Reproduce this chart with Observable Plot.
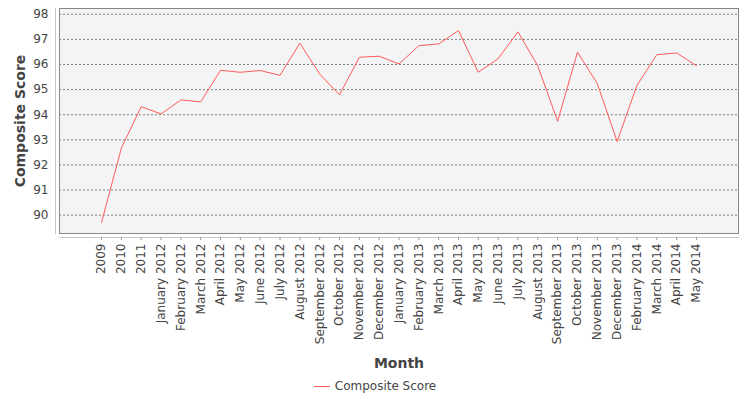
<!DOCTYPE html>
<html><head><meta charset="utf-8">
<script src="https://cdn.jsdelivr.net/npm/d3@7"></script>
<script src="https://cdn.jsdelivr.net/npm/@observablehq/plot@0.6"></script>
<style>
body{margin:0;background:#fff;font-family:"DejaVu Sans",sans-serif;}
#legend{height:28px;display:flex;align-items:center;justify-content:center;font-size:12px;color:#444;}
#legend .sw{display:inline-block;width:16px;height:0;border-top:1px solid #ff5a5a;margin-right:5px;}
</style></head>
<body><div id="chart"></div><div id="legend"><span class="sw"></span><span>Composite Score</span></div>
<script>
const months = ["2009","2010","2011","January 2012","February 2012","March 2012","April 2012","May 2012","June 2012","July 2012","August 2012","September 2012","October 2012","November 2012","December 2012","January 2013","February 2013","March 2013","April 2013","May 2013","June 2013","July 2013","August 2013","September 2013","October 2013","November 2013","December 2013","February 2014","March 2014","April 2014","May 2014"];
const scores = [89.71,92.67,94.32,94.03,94.59,94.51,95.77,95.69,95.76,95.57,96.85,95.62,94.79,96.29,96.33,96.02,96.75,96.82,97.35,95.69,96.23,97.30,95.94,93.74,96.49,95.24,92.93,95.17,96.39,96.46,95.95];
const yTicks = [90,91,92,93,94,95,96,97,98];
const data = months.map((m,i)=>({month:m, score:scores[i]}));

const chart = Plot.plot({
  width:750, height:372,
  marginLeft:59, marginRight:12, marginTop:8, marginBottom:139,
  style:{fontFamily:"DejaVu Sans, sans-serif", fontSize:"12px", color:"#444", background:"#fff"},
  x:{type:"point", domain:months, padding:2.12, round:false},
  y:{domain:[89.27,98.23]},
  marks:[
    Plot.frame({fill:"#f4f4f4"}),
    Plot.gridY(yTicks, {stroke:"#808080", strokeOpacity:1, strokeDasharray:"2,2"}),
    Plot.frame({stroke:"#888", strokeWidth:1}),
    Plot.frame({anchor:"left", dx:-4, stroke:"#c8c8c8"}),
    Plot.frame({anchor:"bottom", dy:4, stroke:"#c8c8c8"}),
    Plot.axisY(yTicks, {tickSize:0, tickPadding:11, label:null, fill:"#444", fontSize:12}),
    Plot.axisX({tickSize:3, dy:4, tickRotate:-90, tickPadding:3, label:null, fill:"#444", stroke:"#999", fontSize:12}),
    Plot.line(data, {x:"month", y:"score", stroke:"#ff5a5a", strokeWidth:1}),
    Plot.text(["Composite Score"], {frameAnchor:"left", rotate:-90, dx:-39, textAnchor:"middle", fontSize:14, fontWeight:"bold", fill:"#444"}),
    Plot.text(["Month"], {frameAnchor:"bottom", dy:130, fontSize:14, fontWeight:"bold", fill:"#444", lineAnchor:"middle"})
  ]
});
document.getElementById("chart").appendChild(chart);
</script></body></html>
